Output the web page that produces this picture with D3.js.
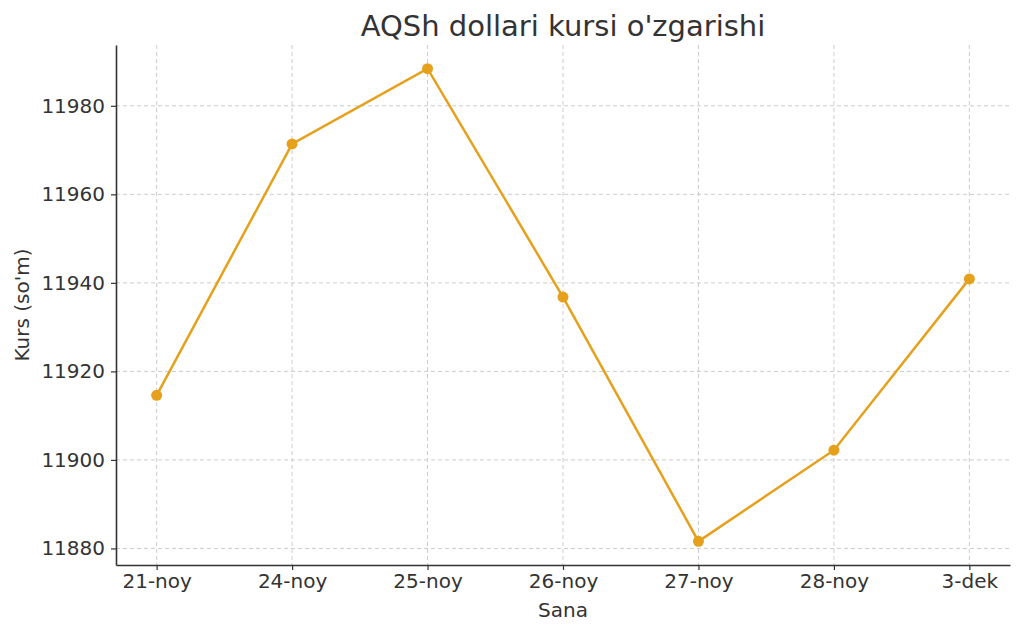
<!DOCTYPE html>
<html>
<head>
<meta charset="utf-8">
<script src="https://cdn.jsdelivr.net/npm/d3@7"></script>
<style>
body { margin: 0; background: #fff; }
svg { font-family: "DejaVu Sans", sans-serif; }
</style>
</head>
<body>
<svg width="1024" height="634"></svg>
<script>
// data
var dates = ["21-noy", "24-noy", "25-noy", "26-noy", "27-noy", "28-noy", "3-dek"];
var rates = [11914.6, 11971.4, 11988.4, 11936.8, 11881.6, 11902.2, 11940.9];
var yTicks = [11880, 11900, 11920, 11940, 11960, 11980];

var svg = d3.select("svg"),
	margin = {top: 45, right: 14, bottom: 69, left: 116},
	width = +svg.attr("width") - margin.left - margin.right,
	height = +svg.attr("height") - margin.top - margin.bottom,
	g = svg.append("g").attr("transform", "translate(" + margin.left + "," + margin.top + ")");

var ink = "#333";
var lineColor = "#E5A11C";

// x scale : point positions with matplotlib-like 5% padding
var n = dates.length;
var xi = d3.scaleLinear().domain([-0.3, n - 1 + 0.3]).range([0, width]);
var ymin = d3.min(rates), ymax = d3.max(rates), pad = (ymax - ymin) * 0.05;
var y = d3.scaleLinear().domain([ymin - pad, ymax + pad]).range([height, 0]);

// grid
g.append("g").selectAll("line").data(yTicks).enter().append("line")
	.attr("x1", 0).attr("x2", width)
	.attr("y1", function (d) { return y(d); })
	.attr("y2", function (d) { return y(d); })
	.attr("stroke", "#ccc").attr("stroke-width", 1).attr("stroke-dasharray", "4,3");
g.append("g").selectAll("line").data(dates).enter().append("line")
	.attr("y1", 0).attr("y2", height)
	.attr("x1", function (d, i) { return xi(i); })
	.attr("x2", function (d, i) { return xi(i); })
	.attr("stroke", "#ccc").attr("stroke-width", 1).attr("stroke-dasharray", "4,3");

// axes
var xAxis = g.append("g")
	.attr("transform", "translate(0," + height + ")")
	.call(d3.axisBottom(xi).tickValues(d3.range(n)).tickFormat(function (i) { return dates[i]; })
		.tickSize(5).tickSizeOuter(0).tickPadding(4));
var yAxis = g.append("g")
	.call(d3.axisLeft(y).tickValues(yTicks).tickFormat(d3.format("d"))
		.tickSize(5).tickSizeOuter(0).tickPadding(6));
[xAxis, yAxis].forEach(function (a) {
	a.select(".domain").attr("stroke", ink).attr("stroke-width", 1.6);
	a.selectAll(".tick line").attr("stroke", ink).attr("stroke-width", 1.2);
	a.selectAll(".tick text").attr("fill", ink).style("font-size", "20px").style("font-family", "DejaVu Sans");
});

// line
var line = d3.line()
	.x(function (d, i) { return xi(i); })
	.y(function (d) { return y(d); });
g.append("path").datum(rates)
	.attr("fill", "none").attr("stroke", lineColor).attr("stroke-width", 2.5)
	.attr("d", line);
g.selectAll(".dot").data(rates).enter().append("circle")
	.attr("class", "dot")
	.attr("cx", function (d, i) { return xi(i); })
	.attr("cy", function (d) { return y(d); })
	.attr("r", 5.5).attr("fill", lineColor);

// title and labels
svg.append("text")
	.attr("x", margin.left + width / 2).attr("y", 36)
	.attr("text-anchor", "middle").attr("fill", ink)
	.style("font-size", "29px")
	.text("AQSh dollari kursi o'zgarishi");
svg.append("text")
	.attr("x", margin.left + width / 2).attr("y", 617)
	.attr("text-anchor", "middle").attr("fill", ink)
	.style("font-size", "20px")
	.text("Sana");
svg.append("text")
	.attr("transform", "translate(29," + (margin.top + height / 2) + ") rotate(-90)")
	.attr("text-anchor", "middle").attr("fill", ink)
	.style("font-size", "20px")
	.text("Kurs (so'm)");
</script>
</body>
</html>
